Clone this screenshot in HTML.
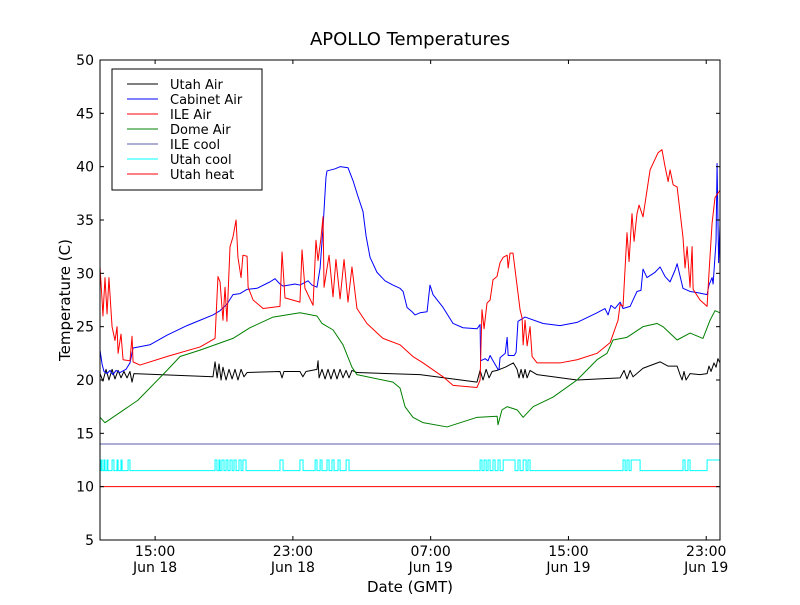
<!DOCTYPE html>
<html><head><meta charset="utf-8"><style>
body{margin:0;background:#fff;}
svg text{font-family:"DejaVu Sans","Liberation Sans",sans-serif;}
</style></head><body>
<svg id="chart" width="800" height="600" xmlns="http://www.w3.org/2000/svg">
<rect width="800" height="600" fill="#fff"/>
<text x="410" y="45" font-size="18" text-anchor="middle">APOLLO Temperatures</text>
<text x="0" y="0" font-size="15" text-anchor="middle" transform="translate(70,300) rotate(-90)">Temperature (C)</text>
<text x="410" y="592" font-size="15" text-anchor="middle">Date (GMT)</text>
<g id="plot"></g>
<g id="axes"></g>
<g id="legend"></g>
</svg>
<script>
const yTicks=[5,10,15,20,25,30,35,40,45,50];
const xTickHours=[15,23,31,39,47];
const xTickTime=["15:00","23:00","07:00","15:00","23:00"];
const xTickDate=["Jun 18","Jun 18","Jun 19","Jun 19","Jun 19"];
const seriesNames=["Utah Air","Cabinet Air","ILE Air","Dome Air","ILE cool","Utah cool","Utah heat"];
const seriesColors=["#000000","#0000ff","#ff0000","#008000","#5c5ca8","#00ffff","#ff0000"];

const utahAirT=[11.80,11.97,12.15,12.32,12.50,12.67,12.85,13.02,13.19,13.37,13.54,13.66,13.77,18.36,18.48,18.6,18.71,18.83,18.94,19.12,19.29,19.47,19.64,19.81,19.99,20.16,20.34,22.25,22.37,22.48,23.41,23.58,23.76,24.40,24.46,24.52,24.69,24.87,25.04,25.21,25.39,25.56,25.74,25.91,26.09,26.26,26.43,26.72,30.38,33.69,33.87,34.04,34.22,34.39,34.57,34.86,35.33,35.80,36.02,36.13,36.25,36.37,36.48,36.60,36.77,37.18,39.50,42.00,42.23,42.40,42.58,42.75,43.33,44.32,44.79,45.31,45.48,45.60,45.71,45.83,46.06,46.64,47.05,47.16,47.28,47.45,47.57,47.68,47.80];
const utahAirV=[20.6,19.9,21.0,20.0,21.0,20.1,20.9,20.2,20.8,20.2,20.8,19.8,20.6,20.3,21.7,20.2,21.5,20.0,21.2,20.0,21.0,20.1,21.0,20.0,21.0,20.3,20.7,20.8,20.2,20.8,20.8,20.3,20.8,21.0,21.8,20.2,21.0,20.1,21.0,20.1,21.0,20.1,21.0,20.2,20.9,20.2,20.9,20.7,20.5,19.8,20.9,20.0,21.0,20.2,20.8,20.9,21.2,21.6,21.0,20.2,21.0,20.2,21.0,20.2,20.9,20.5,20.0,20.2,20.9,20.1,20.9,20.3,21.1,21.7,21.3,21.3,20.5,20.0,20.8,20.0,20.6,20.5,20.6,21.3,20.8,21.6,21.2,22.0,21.6];

const cabinetT=[11.80,11.92,12.03,12.21,12.38,12.55,12.73,12.96,13.31,13.54,13.72,14.70,15.69,16.85,17.61,18.36,18.77,19.17,19.52,19.93,20.34,20.92,21.67,21.96,22.25,22.43,23.12,23.41,23.88,24.11,24.40,24.58,24.75,24.92,24.98,25.45,25.74,26.20,26.32,26.49,26.78,27.07,27.25,27.48,27.88,28.35,28.81,29.22,29.40,29.63,29.92,30.09,30.38,30.79,30.96,31.14,31.72,32.30,32.88,33.69,33.87,33.90,34.16,34.33,34.45,34.62,34.91,34.97,35.03,35.33,35.44,35.50,35.85,35.96,36.07,36.48,37.53,38.51,39.50,40.66,41.12,41.30,41.47,41.70,42.00,42.17,42.58,42.98,43.21,43.33,43.56,44.03,44.32,44.61,44.90,45.19,45.31,45.65,46.06,46.45,47.05,47.16,47.34,47.40,47.57,47.63,47.72,47.80];
const cabinetV=[22.8,21.5,20.8,20.6,20.9,20.5,20.9,20.7,21.0,21.6,23.0,23.3,24.2,25.1,25.6,26.1,26.5,27.1,28.0,28.1,28.5,28.6,29.2,29.5,29.0,28.8,29.0,28.9,29.3,28.9,28.7,30.5,34.3,39.0,39.6,39.8,40.0,39.9,39.4,38.7,37.2,35.8,33.5,31.5,30.1,29.3,28.9,28.6,28.3,26.8,26.4,26.1,26.3,26.4,28.9,28.0,26.8,25.3,24.9,24.8,25.2,21.8,22.0,21.8,22.3,21.8,21.0,21.0,22.1,22.5,24.0,22.3,22.3,22.6,25.5,25.9,25.3,25.1,25.4,26.3,26.7,26.1,27.0,26.7,27.3,26.7,26.9,28.3,28.4,30.4,29.6,30.1,30.6,29.7,29.2,30.3,30.9,28.6,28.3,28.2,28.0,28.9,29.6,29.0,33.0,40.3,31.0,34.5];

const ileAirT=[11.80,11.92,11.97,12.09,12.21,12.32,12.44,12.50,12.67,12.79,12.85,13.02,13.14,13.54,13.66,13.72,14.12,15.69,17.61,18.48,18.65,18.77,18.94,19.06,19.17,19.35,19.52,19.70,19.81,19.99,20.10,20.34,20.40,20.69,21.27,22.25,22.37,22.54,23.41,23.53,23.70,24.17,24.34,24.46,24.63,24.75,24.81,25.10,25.33,25.50,25.74,25.97,26.20,26.43,26.72,27.30,28.23,29.22,29.97,30.56,31.72,32.30,33.69,33.87,33.98,34.10,34.27,34.45,34.62,34.85,35.03,35.21,35.44,35.50,35.61,35.78,36.19,36.31,36.37,36.48,36.60,36.77,36.89,37.18,38.51,39.50,40.66,41.42,41.88,42.00,42.17,42.40,42.52,42.69,42.81,42.98,43.10,43.33,43.74,44.20,44.43,44.61,44.79,44.90,45.08,45.31,45.65,45.77,45.89,46.06,46.18,46.24,46.64,47.05,47.16,47.34,47.51,47.80];
const ileAirV=[30.6,27.5,26.0,29.6,26.2,29.6,26.5,25.0,23.7,25.0,22.5,24.3,21.9,21.8,24.1,21.7,21.4,22.2,23.1,23.9,29.7,29.2,25.6,28.7,25.5,32.5,33.4,35.0,31.5,29.6,31.7,31.6,28.7,27.5,26.7,26.9,32.0,27.7,27.3,32.2,28.6,27.0,33.1,31.2,33.3,35.3,28.7,31.7,27.8,31.3,27.6,31.3,27.3,30.6,26.7,25.3,23.9,23.3,22.2,21.6,20.3,19.5,19.3,20.0,26.6,24.8,27.2,27.5,29.4,29.7,31.0,31.5,31.7,30.5,31.9,31.9,26.6,25.8,23.3,25.6,23.2,25.0,22.2,21.6,21.6,21.9,22.5,23.5,25.6,27.1,26.9,33.8,31.1,35.6,33.0,35.6,36.4,35.3,39.7,41.3,41.6,40.0,38.6,39.7,38.3,38.1,33.4,30.5,32.5,28.7,32.5,28.5,27.5,26.9,30.0,34.7,37.1,37.8];

const domeT=[11.80,12.09,14.00,15.69,16.45,17.61,19.52,20.51,21.85,23.41,24.40,24.69,25.33,25.91,26.43,26.72,28.81,29.22,29.51,29.97,30.56,31.95,33.69,34.86,34.91,35.14,35.44,36.02,36.37,36.95,38.11,39.50,40.66,41.24,41.59,42.40,43.33,44.14,44.49,45.31,46.06,46.81,47.22,47.51,47.80];
const domeV=[16.5,16.0,18.1,20.9,22.2,22.8,23.9,24.9,25.9,26.3,26.0,25.3,24.7,23.3,21.2,20.5,19.8,19.25,17.5,16.5,16.0,15.6,16.5,16.6,15.8,17.2,17.5,17.2,16.5,17.5,18.4,20.0,21.9,22.5,23.75,24.0,25.0,25.3,25.0,23.75,24.4,23.9,25.6,26.5,26.3];

const ileCoolV=[14,14];
const utahHeatV=[10,10];
const flatT=[11.8,47.8];
const utahCoolLow=11.5, utahCoolHigh=12.5;
const utahCoolOnStart=[11.86,12.03,12.21,12.50,12.79,13.02,13.43,18.48,18.71,18.88,19.12,19.35,19.58,19.87,20.10,22.25,23.41,24.29,24.58,24.98,25.27,25.62,26.09,33.87,34.10,34.33,34.62,34.91,35.21,36.07,36.37,36.65,42.17,42.40,42.64,45.65,45.94,47.05];
const utahCoolOnEnd=[11.92,12.09,12.26,12.61,12.85,13.08,13.54,18.59,18.77,19.00,19.23,19.47,19.70,19.99,20.28,22.43,23.59,24.40,24.69,25.10,25.39,25.74,26.26,33.98,34.22,34.45,34.74,35.03,35.90,36.19,36.54,36.77,42.29,42.52,43.16,45.77,46.06,47.80];

const L=100,R=720,T=60,B=540,X0=11.8,X1=47.8,Y0=5,Y1=50;
function sx(h){return L+(h-X0)/(X1-X0)*(R-L);}
function sy(v){return B-(v-Y0)/(Y1-Y0)*(B-T);}
const NS="http://www.w3.org/2000/svg";
function mk(tag,parent,attrs){const e=document.createElementNS(NS,tag);for(const k in attrs)e.setAttribute(k,attrs[k]);parent.appendChild(e);return e;}
const plot=document.getElementById('plot');
const axes=document.getElementById('axes');
const legend=document.getElementById('legend');

function line(ts,vs,color,name){
  let d='';
  for(let i=0;i<ts.length;i++){d+=(i?'L':'M')+sx(ts[i]).toFixed(2)+','+sy(vs[i]).toFixed(2);}
  const p=mk('path',plot,{d:d,fill:'none',stroke:color,'stroke-width':1,'stroke-linejoin':'round'});
  
  
}
line(utahAirT,utahAirV,seriesColors[0],'utah-air-line');
line(cabinetT,cabinetV,seriesColors[1],'cabinet-air-line');
line(ileAirT,ileAirV,seriesColors[2],'ile-air-line');
line(domeT,domeV,seriesColors[3],'dome-air-line');
line(flatT,ileCoolV,seriesColors[4],'ile-cool-line');
// utah cool step line
(function(){
  let d='M'+sx(X0).toFixed(2)+','+sy(utahCoolLow).toFixed(2);
  for(let i=0;i<utahCoolOnStart.length;i++){
    const a=sx(utahCoolOnStart[i]).toFixed(2), b=sx(utahCoolOnEnd[i]).toFixed(2);
    d+='L'+a+','+sy(utahCoolLow).toFixed(2)+'L'+a+','+sy(utahCoolHigh).toFixed(2)+'L'+b+','+sy(utahCoolHigh).toFixed(2)+'L'+b+','+sy(utahCoolLow).toFixed(2);
  }
  d+='L'+sx(X1).toFixed(2)+','+sy(utahCoolLow).toFixed(2);
  const p=mk('path',plot,{d:d,fill:'none',stroke:seriesColors[5],'stroke-width':1});
  
  
})();
line(flatT,utahHeatV,seriesColors[6],'utah-heat-line');

// frame
const fr=mk('rect',axes,{x:L,y:T,width:R-L,height:B-T,fill:'none',stroke:'#000','stroke-width':1});


yTicks.forEach(v=>{
  const y=sy(v);
  mk('line',axes,{x1:L,x2:L+4,y1:y,y2:y,stroke:'#000'});
  mk('line',axes,{x1:R-4,x2:R,y1:y,y2:y,stroke:'#000'});
  const t=mk('text',axes,{x:L-6,y:y+5,'font-size':14,'text-anchor':'end'});
  t.textContent=v;
  
  
});
xTickHours.forEach((h,i)=>{
  const x=sx(h);
  mk('line',axes,{x1:x,x2:x,y1:B,y2:B-4,stroke:'#000'});
  mk('line',axes,{x1:x,x2:x,y1:T,y2:T+4,stroke:'#000'});
  const t=mk('text',axes,{x:x,y:556,'font-size':14,'text-anchor':'middle'});
  t.textContent=xTickTime[i];
  
  
  const t2=mk('text',axes,{x:x,y:572,'font-size':14,'text-anchor':'middle'});
  t2.textContent=xTickDate[i];
  
  
});

// legend
const lb=mk('rect',legend,{x:112,y:69,width:150,height:121,fill:'#fff',stroke:'#000','stroke-width':1});


seriesNames.forEach((n,i)=>{
  const y=84+i*15;
  const g=mk('g',legend,{});
  
  
  mk('line',g,{x1:127,x2:158,y1:y,y2:y,stroke:seriesColors[i],'stroke-width':1});
  const t=mk('text',g,{x:170,y:y+5,'font-size':13});
  t.textContent=n;
});
</script>
</body></html>
